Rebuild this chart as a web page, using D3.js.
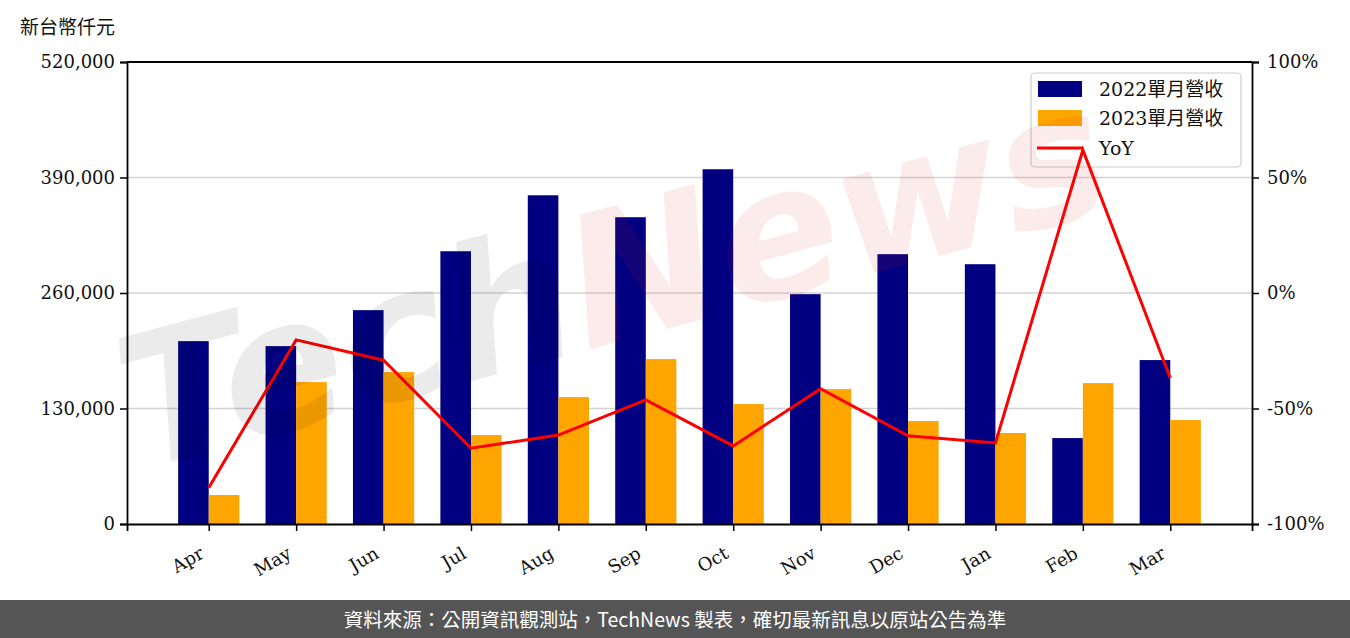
<!DOCTYPE html>
<html lang="zh-TW"><head><meta charset="utf-8">
<script src="https://cdn.jsdelivr.net/npm/d3@7"></script>
<style>
body{margin:0;background:#fff;}
svg{display:block;}
</style></head>
<body>
<svg id="c" width="1350" height="638"></svg>
<script>
const months = ["Apr","May","Jun","Jul","Aug","Sep","Oct","Nov","Dec","Jan","Feb","Mar"];
const rev2022 = [205800,200200,240700,307000,370000,345300,399300,258700,303700,292400,96700,184500];
const rev2023 = [32600,159700,171000,100100,142800,185600,135000,151800,115900,102400,158600,117000];
const yoy = [-84.3,-20.3,-29.1,-67.2,-61.5,-46.3,-66.2,-41.4,-61.8,-64.9,61.9,-36.8];
const leftTicks = [0,130000,260000,390000,520000];
const rightTicks = [-100,-50,0,50,100];
const seriesNames = ["2022單月營收","2023單月營收","YoY"];
const colors = ["#000080","#FFA500","#FF0000"];

const svg = d3.select("#c");
const L=127, R=1252, T=62, B=524;
const serif = "'DejaVu Serif','Liberation Serif',serif";
const x = d3.scaleLinear().domain([-0.935, 11.935]).range([L,R]);
const yL = d3.scaleLinear().domain([0,520000]).range([B,T]);
const yR = d3.scaleLinear().domain([-100,100]).range([B,T]);

// grid
svg.append("g").selectAll("line").data(leftTicks.slice(1,4)).join("line")
  .attr("x1",L).attr("x2",R).attr("y1",d=>yL(d)).attr("y2",d=>yL(d))
  .attr("stroke","#d3d3d3").attr("stroke-width",1.5);

// bars
const bw = 0.35;
svg.append("g").selectAll("rect").data(rev2022).join("rect")
  .attr("x",(d,i)=>x(i-bw)).attr("width",(d,i)=>x(i)-x(i-bw))
  .attr("y",d=>yL(d)).attr("height",d=>B-yL(d)).attr("fill",colors[0]);
svg.append("g").selectAll("rect").data(rev2023).join("rect")
  .attr("x",(d,i)=>x(i)).attr("width",(d,i)=>x(i+bw)-x(i))
  .attr("y",d=>yL(d)).attr("height",d=>B-yL(d)).attr("fill",colors[1]);

// axes
const axL = svg.append("g").attr("transform",`translate(${L},0)`)
  .call(d3.axisLeft(yL).tickValues(leftTicks).tickFormat(d3.format(",")).tickSize(7).tickPadding(5));
const axR = svg.append("g").attr("transform",`translate(${R},0)`)
  .call(d3.axisRight(yR).tickValues(rightTicks).tickFormat(d=>d+"%").tickSize(7).tickPadding(8));
const axB = svg.append("g").attr("transform",`translate(0,${B})`)
  .call(d3.axisBottom(x).tickValues(d3.range(12)).tickFormat(i=>months[i]).tickSize(7));
svg.append("line").attr("x1",L).attr("x2",R).attr("y1",T).attr("y2",T).attr("stroke","#000").attr("stroke-width",1.8);
[axL,axR,axB].forEach(a=>{
  a.select(".domain").attr("stroke","#000").attr("stroke-width",1.8);
  a.selectAll(".tick line").attr("stroke","#000").attr("stroke-width",1.5);
  a.selectAll("text").attr("font-family",serif).attr("font-size",18).attr("fill","#111");
});
axB.selectAll(".tick text")
  .attr("text-anchor","end").attr("dy",null).attr("y",null)
  .attr("transform","translate(-4,33) rotate(-30)");

// y label
svg.append("text").attr("x",20).attr("y",34).text("新台幣仟元")
  .attr("font-family","'Noto Sans CJK TC','Noto Sans CJK SC',sans-serif").attr("font-size",19).attr("fill","#111");

// legend
const lg = svg.append("g");
lg.append("rect").attr("x",1031).attr("y",73).attr("width",210).attr("height",94).attr("rx",4)
  .attr("fill","#fff").attr("fill-opacity",0.85).attr("stroke","#ccc").attr("stroke-width",1.2);
const lfont = "'DejaVu Serif','Noto Sans CJK TC',serif";
[0,1].forEach(k=>{
  lg.append("rect").attr("x",1038).attr("y",81+k*29).attr("width",44).attr("height",16).attr("fill",colors[k]);
  lg.append("text").attr("x",1099).attr("y",96+k*29).text(seriesNames[k])
    .attr("font-family",lfont).attr("font-size",19).attr("fill","#111");
});
lg.append("line").attr("x1",1037).attr("x2",1083).attr("y1",148).attr("y2",148).attr("stroke",colors[2]).attr("stroke-width",3);
lg.append("text").attr("x",1099).attr("y",155).text(seriesNames[2])
  .attr("font-family",lfont).attr("font-size",19).attr("fill","#111");

// line
svg.append("path").datum(yoy)
  .attr("d",d3.line().x((d,i)=>x(i)).y(d=>yR(d)))
  .attr("fill","none").attr("stroke",colors[2]).attr("stroke-width",3).attr("stroke-linejoin","miter");

// watermark
const wm = svg.append("text").attr("transform","translate(140,470) rotate(-15)")
  .attr("font-family","'DejaVu Sans',sans-serif").attr("font-style","italic").attr("font-weight","bold")
  .attr("font-size",182);
wm.append("tspan").text("Tech").attr("fill","#000").attr("fill-opacity",0.08);
wm.append("tspan").text("News").attr("fill","#d22").attr("fill-opacity",0.09);

// footer
svg.append("rect").attr("x",0).attr("y",600).attr("width",1350).attr("height",38).attr("fill","#555");
svg.append("text").attr("x",675).attr("y",627).attr("text-anchor","middle").attr("lang","zh-TW")
  .text("資料來源：公開資訊觀測站，TechNews 製表，確切最新訊息以原站公告為準")
  .attr("font-family","'Noto Sans CJK TC',sans-serif").attr("font-size",19.5).attr("fill","#fff");
</script>
</body></html>
